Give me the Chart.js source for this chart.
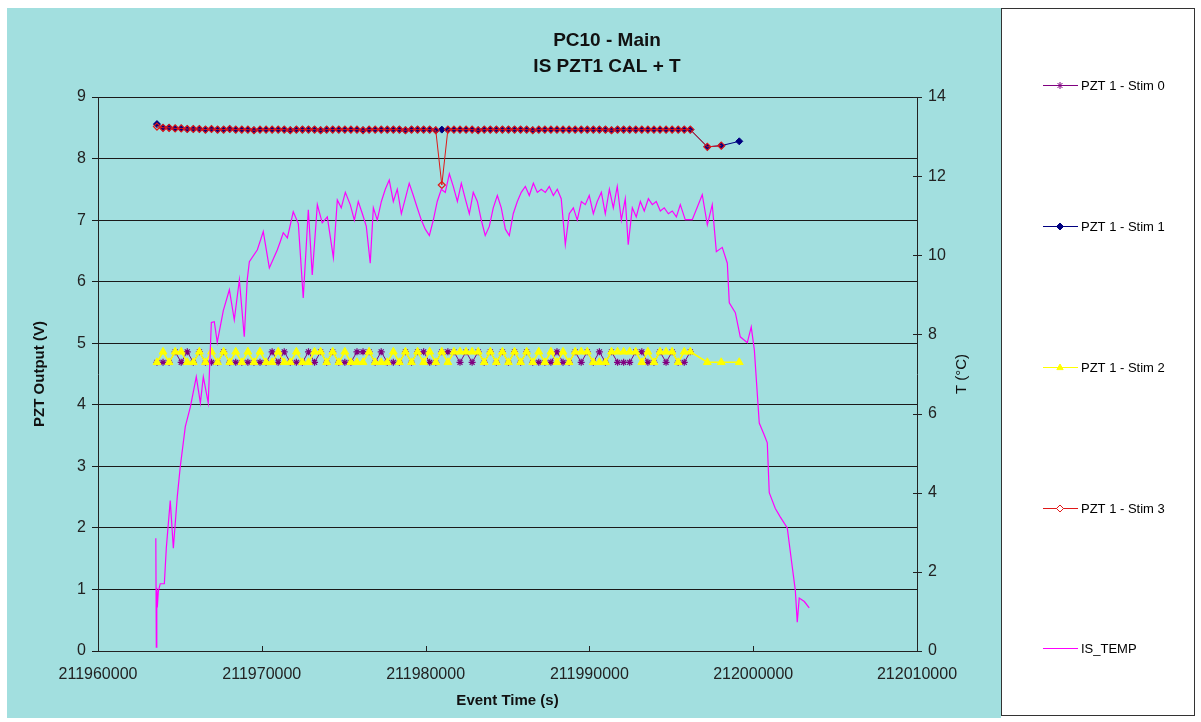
<!DOCTYPE html>
<html>
<head>
<meta charset="utf-8">
<script src="https://cdn.jsdelivr.net/npm/chart.js@4"></script>
<style>
html,body{margin:0;padding:0;background:#fff;}
canvas{display:block;}
</style>
</head>
<body>
<canvas id="c" width="1201" height="722"></canvas>
<script>
// ---------- DATA ----------
const titleLines = ['PC10 - Main', 'IS PZT1 CAL + T'];
const seriesNames = ['PZT 1 - Stim 0', 'PZT 1 - Stim 1', 'PZT 1 - Stim 2', 'PZT 1 - Stim 3', 'IS_TEMP'];
const xTitle = 'Event Time (s)';
const yLeftTitle = 'PZT Output (V)';
const yRightTitle = 'T (°C)';

const stimTime = [
211963600,211963970,211964340,211964710,211965080,211965450,211965820,211966190,211966560,211966930,
211967300,211967670,211968040,211968410,211968780,211969150,211969520,211969890,211970260,211970630,
211971000,211971370,211971740,211972110,211972480,211972850,211973220,211973590,211973960,211974330,
211974700,211975070,211975440,211975810,211976180,211976550,211976920,211977290,211977660,211978030,
211978400,211978770,211979140,211979510,211979880,211980250,211980620,211980990,211981360,211981730,
211982100,211982470,211982840,211983210,211983580,211983950,211984320,211984690,211985060,211985430,
211985800,211986170,211986540,211986910,211987280,211987650,211988020,211988390,211988760,211989130,
211989500,211989870,211990240,211990610,211990980,211991350,211991720,211992090,211992460,211992830,
211993200,211993570,211993940,211994310,211994680,211995050,211995420,211995790,211996160,
211997200,211998050,211999150];

const stim0 = [
4.69,4.69,4.69,4.86,4.69,4.86,4.69,4.86,4.69,4.69,
4.69,4.86,4.69,4.69,4.69,4.69,4.69,4.69,4.69,4.86,
4.69,4.86,4.69,4.69,4.69,4.86,4.69,4.86,4.69,4.86,
4.69,4.69,4.69,4.86,4.86,4.86,4.69,4.86,4.69,4.69,
4.69,4.86,4.69,4.86,4.86,4.69,4.69,4.86,4.86,4.86,
4.69,4.86,4.69,4.86,4.69,4.86,4.69,4.86,4.69,4.86,
4.69,4.86,4.69,4.69,4.69,4.69,4.86,4.69,4.69,4.86,
4.69,4.86,4.69,4.86,4.69,4.86,4.69,4.69,4.69,4.86,
4.86,4.69,4.69,4.86,4.69,4.86,4.69,4.69,4.86];

const stim1 = [
8.56,8.50,8.50,8.49,8.49,8.48,8.48,8.48,8.47,8.48,
8.47,8.47,8.48,8.47,8.47,8.47,8.46,8.47,8.47,8.47,
8.47,8.47,8.46,8.47,8.47,8.47,8.47,8.46,8.47,8.47,
8.47,8.47,8.47,8.47,8.46,8.47,8.47,8.47,8.47,8.47,
8.47,8.46,8.47,8.47,8.47,8.47,8.46,8.47,8.47,8.47,
8.47,8.47,8.47,8.46,8.47,8.47,8.47,8.47,8.47,8.47,
8.47,8.47,8.46,8.47,8.47,8.47,8.47,8.47,8.47,8.47,
8.47,8.47,8.47,8.47,8.47,8.46,8.47,8.47,8.47,8.47,
8.47,8.47,8.47,8.47,8.47,8.47,8.47,8.47,8.47,
8.19,8.21,8.28];

const stim2 = [
4.69,4.86,4.69,4.86,4.86,4.69,4.69,4.86,4.69,4.86,
4.69,4.86,4.69,4.86,4.69,4.86,4.69,4.86,4.69,4.69,
4.86,4.69,4.69,4.86,4.69,4.69,4.86,4.86,4.69,4.86,
4.69,4.86,4.69,4.69,4.69,4.86,4.69,4.69,4.69,4.86,
4.69,4.86,4.69,4.86,4.69,4.86,4.69,4.86,4.69,4.86,
4.86,4.86,4.86,4.86,4.69,4.86,4.69,4.86,4.69,4.86,
4.69,4.86,4.69,4.86,4.69,4.86,4.69,4.86,4.69,4.86,
4.86,4.86,4.69,4.69,4.69,4.86,4.86,4.86,4.86,4.86,
4.69,4.86,4.69,4.86,4.86,4.86,4.69,4.86,4.86,
4.69,4.69,4.69];

const stim3 = [
8.52,8.50,8.50,8.49,8.49,8.48,8.48,8.48,8.47,8.48,
8.47,8.47,8.48,8.47,8.47,8.47,8.46,8.47,8.47,8.47,
8.47,8.47,8.46,8.47,8.47,8.47,8.47,8.46,8.47,8.47,
8.47,8.47,8.47,8.47,8.46,8.47,8.47,8.47,8.47,8.47,
8.47,8.46,8.47,8.47,8.47,8.47,8.46,7.57,8.47,8.47,
8.47,8.47,8.47,8.46,8.47,8.47,8.47,8.47,8.47,8.47,
8.47,8.47,8.46,8.47,8.47,8.47,8.47,8.47,8.47,8.47,
8.47,8.47,8.47,8.47,8.47,8.46,8.47,8.47,8.47,8.47,
8.47,8.47,8.47,8.47,8.47,8.47,8.47,8.47,8.47,
8.19,8.21];

const tempTime = [
211963530,211963560,211963590,211963620,211963680,211963800,211964050,211964170,211964410,211964600,
211964840,211965020,211965330,211965640,211966000,211966250,211966430,211966730,211966920,211967100,
211967280,211967650,211968020,211968320,211968630,211968930,211969110,211969240,211969730,211970090,
211970460,211970950,211971130,211971310,211971560,211971920,211972230,211972530,211972840,211973080,
211973390,211973690,211974000,211974370,211974610,
211974850,211975100,211975400,211975650,211975890,211976140,211976380,211976620,211976810,211977050,
211977300,211977540,211977780,211978030,211978270,211978520,211978760,211979000,211979250,211979490,
211979740,211979980,211980230,211980470,211980710,211980960,211981200,211981450,211981690,211981940,
211982180,211982420,211982670,211982910,211983160,211983400,211983640,211983890,211984130,211984380,
211984620,211984870,211985110,211985350,211985600,211985840,211986090,211986330,211986580,211986820,
211987060,211987310,211987550,211987800,211988040,211988280,211988530,211988770,211989020,211989260,
211989510,211989750,211989990,211990240,211990480,211990730,211990970,211991220,211991460,211991700,
211991950,211992190,211992370,211992620,211992860,211993110,211993350,211993600,211993840,211994080,
211994330,211994570,211994820,211995060,211995310,211995550,
211995850,211996280,211996890,211997200,211997500,211997750,211998110,211998420,211998540,211998910,
211999210,211999640,211999880,212000070,212000370,212000680,212000860,212000980,212001350,212001650,
212002080,212002330,212002570,212002690,212002810,212003120,212003420];

const tempValue = [
2.85,0.10,1.60,1.10,1.50,1.70,1.70,2.60,3.80,2.60,
3.90,4.65,5.67,6.17,6.93,6.27,6.93,6.27,8.30,8.32,
7.80,8.60,9.13,8.37,9.38,7.94,9.38,9.84,10.14,10.60,
9.68,10.14,10.35,10.57,10.44,11.10,10.80,8.92,11.15,9.50,
11.28,10.82,10.97,9.94,11.40,
11.20,11.59,11.28,10.89,11.36,11.05,10.73,9.80,11.20,10.89,
11.36,11.67,11.90,11.36,11.67,11.05,11.43,11.82,11.51,11.20,
10.89,10.66,10.50,10.89,11.36,11.67,11.59,12.06,11.74,11.36,
11.82,11.43,11.05,11.59,11.36,10.89,10.50,10.73,11.20,11.51,
11.20,10.66,10.50,11.05,11.36,11.59,11.74,11.51,11.82,11.59,
11.67,11.59,11.74,11.51,11.67,11.43,10.27,11.05,11.20,10.89,
11.36,11.28,11.51,11.05,11.36,11.59,11.05,11.67,11.20,11.74,
10.89,11.43,10.27,11.20,10.97,11.36,11.12,11.43,11.28,11.36,
11.12,11.20,11.05,11.12,10.97,11.28,
10.90,10.90,11.53,10.77,11.28,10.09,10.20,9.80,8.80,8.55,
7.94,7.79,8.19,7.61,5.76,5.45,5.26,4.00,3.60,3.39,
3.11,2.30,1.54,0.73,1.34,1.25,1.09];

const xTickMin = 211960000, xTickMax = 212010000, xTickStep = 10000;
const yLeftMin = 0, yLeftMax = 9, yLeftStep = 1;
const yRightMin = 0, yRightMax = 14, yRightStep = 2;

// ---------- STYLE ----------
const FONT = "'Liberation Sans', Arial, sans-serif";
const BG = '#A2DFDF';
const colors = ['#800080', '#000080', '#FFFF00', '#E01818', '#FF00FF'];

function pts(xs, ys) { return ys.map((y, i) => ({x: xs[i], y: y})); }

const datasets = [
  {label: seriesNames[0], data: pts(stimTime, stim0), yAxisID: 'y', order: 5,
   borderColor: colors[0], borderWidth: 1, pointStyle: 'star', pointRadius: 3.5,
   pointBorderColor: colors[0], pointBackgroundColor: colors[0], pointBorderWidth: 1.2},
  {label: seriesNames[1], data: pts(stimTime, stim1), yAxisID: 'y', order: 4,
   borderColor: colors[1], borderWidth: 1, pointStyle: 'rectRot', pointRadius: 3.5,
   pointBorderColor: colors[1], pointBackgroundColor: colors[1], pointBorderWidth: 1},
  {label: seriesNames[2], data: pts(stimTime, stim2), yAxisID: 'y', order: 3,
   borderColor: colors[2], borderWidth: 1.6, pointStyle: 'triangle', pointRadius: 4.5,
   pointBorderColor: colors[2], pointBackgroundColor: colors[2], pointBorderWidth: 1},
  {label: seriesNames[3], data: pts(stimTime, stim3), yAxisID: 'y', order: 2,
   borderColor: colors[3], borderWidth: 1, pointStyle: 'rectRot', pointRadius: 3.5,
   pointBorderColor: colors[3], pointBackgroundColor: 'rgba(0,0,0,0)', pointBorderWidth: 1.2},
  {label: seriesNames[4], data: pts(tempTime, tempValue), yAxisID: 'y2', order: 1,
   borderColor: colors[4], borderWidth: 1.2, pointRadius: 0}
];

// ---------- PLUGINS ----------
const bgPlugin = {
  id: 'bg',
  beforeDraw(chart) {
    const ctx = chart.ctx;
    ctx.save();
    ctx.fillStyle = '#ffffff';
    ctx.fillRect(0, 0, chart.width, chart.height);
    ctx.fillStyle = BG;
    ctx.fillRect(7, 8, 994, 710);
    ctx.restore();
  }
};

function drawMarker(ctx, style, x, y, r, fill, stroke) {
  ctx.save();
  ctx.strokeStyle = stroke; ctx.fillStyle = fill; ctx.lineWidth = 1;
  ctx.beginPath();
  if (style === 'rectRot') {
    ctx.moveTo(x, y - r); ctx.lineTo(x + r, y); ctx.lineTo(x, y + r); ctx.lineTo(x - r, y); ctx.closePath();
    ctx.fill(); ctx.stroke();
  } else if (style === 'triangle') {
    ctx.moveTo(x, y - r); ctx.lineTo(x + r * 0.9, y + r * 0.6); ctx.lineTo(x - r * 0.9, y + r * 0.6); ctx.closePath();
    ctx.fill(); ctx.stroke();
  } else if (style === 'star') {
    ctx.moveTo(x - r, y); ctx.lineTo(x + r, y);
    ctx.moveTo(x, y - r); ctx.lineTo(x, y + r);
    const d = r * 0.7;
    ctx.moveTo(x - d, y - d); ctx.lineTo(x + d, y + d);
    ctx.moveTo(x - d, y + d); ctx.lineTo(x + d, y - d);
    ctx.stroke();
  }
  ctx.restore();
}

const extrasPlugin = {
  id: 'extras',
  afterDraw(chart) {
    const ctx = chart.ctx;
    const xs = chart.scales.x, yr = chart.scales.y2;
    ctx.save();
    ctx.strokeStyle = '#222'; ctx.lineWidth = 1;
    xs.ticks.forEach(t => {
      const px = Math.round(xs.getPixelForValue(t.value)) + 0.5;
      ctx.beginPath(); ctx.moveTo(px, xs.top); ctx.lineTo(px, xs.top - 5); ctx.stroke();
    });
    yr.ticks.forEach(t => {
      const py = Math.round(yr.getPixelForValue(t.value)) + 0.5;
      ctx.beginPath(); ctx.moveTo(yr.left - 4, py); ctx.lineTo(yr.left + 5, py); ctx.stroke();
    });
    // chart title, centred over the whole chart object (as the original does)
    ctx.fillStyle = '#111';
    ctx.textAlign = 'center'; ctx.textBaseline = 'middle';
    ctx.font = 'bold 19px ' + FONT;
    ctx.fillText(titleLines[0], 607, 41);
    ctx.fillText(titleLines[1], 607, 67);
    // right axis title
    ctx.font = '15px ' + FONT;
    ctx.translate(962, (chart.chartArea.top + chart.chartArea.bottom) / 2);
    ctx.rotate(-Math.PI / 2);
    ctx.fillText(yRightTitle, 0, 0);
    ctx.restore();

    // legend box
    ctx.save();
    ctx.fillStyle = '#ffffff';
    ctx.fillRect(1001, 8, 194, 708);
    ctx.strokeStyle = '#333'; ctx.lineWidth = 1;
    ctx.strokeRect(1001.5, 8.5, 193, 707);
    const ys = [85, 226, 367, 508, 648];
    ctx.font = '13px ' + FONT;
    ctx.textAlign = 'left'; ctx.textBaseline = 'middle';
    datasets.forEach((ds, i) => {
      const y = ys[i] + 0.5;
      ctx.strokeStyle = ds.borderColor; ctx.lineWidth = 1;
      ctx.beginPath(); ctx.moveTo(1043, y); ctx.lineTo(1078, y); ctx.stroke();
      if (ds.pointRadius > 0) {
        const fill = ds.pointBackgroundColor === 'rgba(0,0,0,0)' ? '#ffffff' : ds.pointBackgroundColor;
        drawMarker(ctx, ds.pointStyle, 1060, y, Math.min(ds.pointRadius, 3.5), fill, ds.pointBorderColor);
      }
      ctx.fillStyle = '#000';
      ctx.fillText(ds.label, 1081, ys[i] + 1);
    });
    ctx.restore();
  }
};

// ---------- CHART ----------
new Chart(document.getElementById('c'), {
  type: 'line',
  data: {datasets: datasets},
  plugins: [bgPlugin, extrasPlugin],
  options: {
    responsive: false,
    animation: false,
    devicePixelRatio: 1,
    layout: {padding: {left: 27, right: 216, top: 97, bottom: 10}},
    elements: {line: {tension: 0}},
    plugins: {
      legend: {display: false},
      tooltip: {enabled: false},
      title: {display: false}
    },
    scales: {
      x: {
        type: 'linear', min: xTickMin, max: xTickMax,
        afterFit(s) { s.height = 61; },
        ticks: {stepSize: xTickStep, autoSkip: false, maxRotation: 0, padding: 14,
          color: '#222', font: {family: FONT, size: 16},
          callback: v => String(v)},
        grid: {display: true, drawOnChartArea: false, drawTicks: false},
        border: {display: true, color: '#222', width: 1},
        title: {display: true, text: xTitle, color: '#111',
          font: {family: FONT, size: 15, weight: 'bold'}, padding: {top: 4, bottom: 2}}
      },
      y: {
        type: 'linear', position: 'left', min: yLeftMin, max: yLeftMax,
        afterFit(s) { s.width = 71; },
        ticks: {stepSize: yLeftStep, padding: 6, color: '#222', font: {family: FONT, size: 16}},
        grid: {color: '#1a1a1a', lineWidth: 1, tickLength: 6, drawTicks: true},
        border: {display: true, color: '#222', width: 1},
        title: {display: true, text: yLeftTitle, color: '#111',
          font: {family: FONT, size: 15, weight: 'bold'}, padding: {top: 4, bottom: 4}}
      },
      y2: {
        type: 'linear', position: 'right', min: yRightMin, max: yRightMax,
        afterFit(s) { s.width = 68; },
        ticks: {stepSize: yRightStep, padding: 11, color: '#222', font: {family: FONT, size: 16}},
        grid: {display: true, drawOnChartArea: false, drawTicks: false},
        border: {display: true, color: '#222', width: 1}
      }
    }
  }
});
</script>
</body>
</html>
